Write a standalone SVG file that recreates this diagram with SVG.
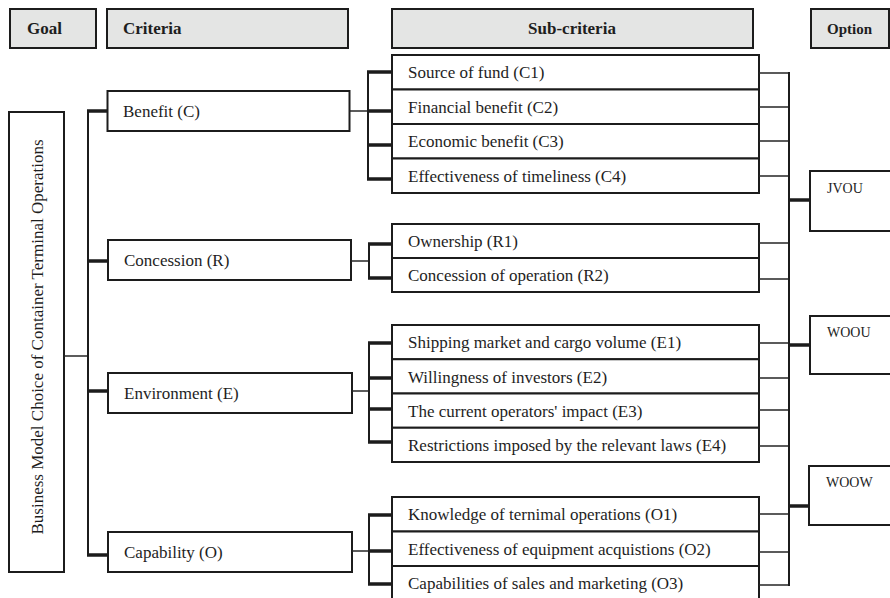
<svg xmlns="http://www.w3.org/2000/svg" width="890" height="598" viewBox="0 0 890 598">
  <style>
    .hdr { fill: #e4e5e4; stroke: #1c1c1c; stroke-width: 2; }
    .box { fill: #ffffff; stroke: #1c1c1c; stroke-width: 2; }
    .hl { font-family: "Liberation Serif", "Times New Roman", serif; font-weight: bold; font-size: 17px; fill: #1e1e1e; }
    .lbl { font-family: "Liberation Serif", "Times New Roman", serif; font-size: 17px; fill: #1e1e1e; }
    .opt { font-family: "Liberation Serif", "Times New Roman", serif; font-size: 14px; fill: #1e1e1e; }
    .thin { stroke: #262626; stroke-width: 1.5; fill: none; }
    .bus { stroke: #1c1c1c; stroke-width: 2; fill: none; }
    .stub { stroke: #1c1c1c; stroke-width: 3.5; fill: none; }
  </style>

  <!-- column headers -->
  <g id="hdr-goal"><rect class="hdr" x="10" y="9" width="86" height="39"/><text class="hl" x="27" y="34">Goal</text></g>
  <g id="hdr-criteria"><rect class="hdr" x="107" y="9" width="241" height="39"/><text class="hl" x="123" y="34">Criteria</text></g>
  <g id="hdr-sub"><rect class="hdr" x="392" y="9" width="361" height="39"/><text class="hl" x="572" y="34" text-anchor="middle">Sub-criteria</text></g>
  <g id="hdr-option"><rect class="hdr" x="811" y="9" width="78" height="39"/><text class="hl" x="827" y="34" style="font-size:15px">Option</text></g>

  <!-- goal -->
  <g id="goal">
    <rect class="box" x="9" y="112" width="55" height="460"/>
    <text class="lbl" transform="translate(43,337) rotate(-90)" text-anchor="middle">Business Model Choice of Container Terminal Operations</text>
  </g>

  <!-- criteria -->
  <g id="crit-c"><rect class="box" x="107.5" y="91" width="242" height="40"/><text class="lbl" x="123" y="117">Benefit (C)</text></g>
  <g id="crit-r"><rect class="box" x="108" y="240" width="243" height="40"/><text class="lbl" x="124" y="266">Concession (R)</text></g>
  <g id="crit-e"><rect class="box" x="108" y="373" width="244" height="40"/><text class="lbl" x="124" y="399">Environment (E)</text></g>
  <g id="crit-o"><rect class="box" x="108" y="532" width="244" height="40"/><text class="lbl" x="124" y="558">Capability (O)</text></g>

  <!-- sub-criteria: benefit -->
  <g id="sub-c1"><rect class="box" x="392" y="55" width="367" height="34.5"/><text class="lbl" x="408" y="78">Source of fund (C1)</text></g>
  <g id="sub-c2"><rect class="box" x="392" y="89.5" width="367" height="34.5"/><text class="lbl" x="408" y="112.5">Financial benefit (C2)</text></g>
  <g id="sub-c3"><rect class="box" x="392" y="124" width="367" height="34.5"/><text class="lbl" x="408" y="147">Economic benefit (C3)</text></g>
  <g id="sub-c4"><rect class="box" x="392" y="158.5" width="367" height="34.5"/><text class="lbl" x="408" y="181.5">Effectiveness of timeliness (C4)</text></g>

  <!-- sub-criteria: concession -->
  <g id="sub-r1"><rect class="box" x="392" y="224" width="367" height="34"/><text class="lbl" x="408" y="247">Ownership (R1)</text></g>
  <g id="sub-r2"><rect class="box" x="392" y="258" width="367" height="34"/><text class="lbl" x="408" y="281">Concession of operation (R2)</text></g>

  <!-- sub-criteria: environment -->
  <g id="sub-e1"><rect class="box" x="392" y="325" width="367" height="34.25"/><text class="lbl" x="408" y="348">Shipping market and cargo volume (E1)</text></g>
  <g id="sub-e2"><rect class="box" x="392" y="359.25" width="367" height="34.25"/><text class="lbl" x="408" y="382.5">Willingness of investors (E2)</text></g>
  <g id="sub-e3"><rect class="box" x="392" y="393.5" width="367" height="34.25"/><text class="lbl" x="408" y="416.5">The current operators' impact (E3)</text></g>
  <g id="sub-e4"><rect class="box" x="392" y="427.75" width="367" height="34.25"/><text class="lbl" x="408" y="451">Restrictions imposed by the relevant laws (E4)</text></g>

  <!-- sub-criteria: capability -->
  <g id="sub-o1"><rect class="box" x="392" y="497" width="367" height="34.5"/><text class="lbl" x="408" y="520">Knowledge of ternimal operations (O1)</text></g>
  <g id="sub-o2"><rect class="box" x="392" y="531.5" width="367" height="34.5"/><text class="lbl" x="408" y="554.5">Effectiveness of equipment acquistions (O2)</text></g>
  <g id="sub-o3"><rect class="box" x="392" y="566" width="367" height="34.5"/><text class="lbl" x="408" y="589">Capabilities of sales and marketing (O3)</text></g>

  <!-- options -->
  <g id="opt-jvou"><rect class="box" x="810" y="171" width="86" height="60"/><text class="opt" x="827" y="193">JVOU</text></g>
  <g id="opt-woou"><rect class="box" x="810" y="316" width="86" height="58"/><text class="opt" x="827" y="337">WOOU</text></g>
  <g id="opt-woow"><rect class="box" x="809" y="466" width="87" height="59"/><text class="opt" x="826" y="487">WOOW</text></g>

  <!-- connectors -->
  <g id="connectors">
    <!-- goal to criteria -->
    <line class="thin" x1="64" y1="356" x2="88" y2="356"/>
    <line class="bus" x1="88" y1="110" x2="88" y2="556"/>
    <path class="stub" d="M87 111H107.5M87 261H108M87 391H108M87 555H108"/>

    <!-- criteria to sub-criteria -->
    <line class="thin" x1="349.5" y1="111" x2="368" y2="111"/>
    <line class="thin" x1="351" y1="261" x2="369" y2="261"/>
    <line class="thin" x1="352" y1="391" x2="369" y2="391"/>
    <line class="thin" x1="352" y1="551" x2="369" y2="551"/>
    <line class="bus" x1="368" y1="71" x2="368" y2="180"/>
    <line class="bus" x1="369" y1="243" x2="369" y2="279"/>
    <line class="bus" x1="369" y1="342" x2="369" y2="443"/>
    <line class="bus" x1="369" y1="514" x2="369" y2="585"/>
    <path class="stub" d="M367 72H392M367 111H392M367 145H392M367 179H392"/>
    <path class="stub" d="M368 244H392M368 278H392"/>
    <path class="stub" d="M368 343H392M368 378H392M368 409H392M368 442H392"/>
    <path class="stub" d="M368 515H392M368 551H392M368 584H392"/>

    <!-- sub-criteria to options -->
    <path class="thin" d="M759 73H789M759 107H789M759 141H789M759 176H789"/>
    <path class="thin" d="M759 243H789M759 279H789"/>
    <path class="thin" d="M759 343H789M759 378H789M759 410H789M759 446H789"/>
    <path class="thin" d="M759 514H789M759 552H789M759 585H789"/>
    <line class="bus" x1="789" y1="72" x2="789" y2="586"/>
    <path class="stub" d="M788 200H810M788 345H810M788 506H809"/>
  </g>
</svg>
